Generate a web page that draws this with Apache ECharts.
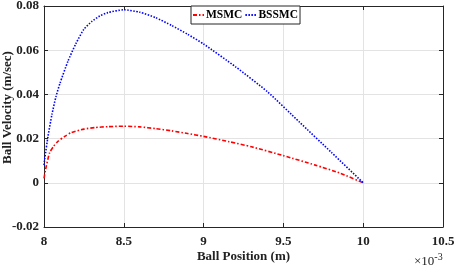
<!DOCTYPE html>
<html><head><meta charset="utf-8">
<script src="https://cdn.jsdelivr.net/npm/echarts@6/dist/echarts.min.js"></script>
<style>html,body{margin:0;padding:0;background:#fff}#c{width:461px;height:270px}</style>
</head><body><div id="c"></div>
<script>
// Ball position (x10^-3 m) and velocity (m/sec)
const msmcX = [8.0, 8.01, 8.035, 8.06, 8.0875, 8.13, 8.17, 8.25, 8.32, 8.4, 8.5, 8.6, 8.7, 8.8, 8.9, 9.0, 9.16, 9.3, 9.5, 9.7, 9.85, 10.0];
const msmcY = [0.002, 0.006, 0.0136, 0.0165, 0.0188, 0.021, 0.0227, 0.0243, 0.025, 0.0254, 0.0256, 0.0253, 0.0245, 0.0235, 0.0223, 0.021, 0.0186, 0.0163, 0.0123, 0.008, 0.0045, 0.0];
const bssmcX = [8.0, 8.005, 8.025, 8.05, 8.075, 8.1, 8.15, 8.2, 8.25, 8.3, 8.35, 8.4, 8.5, 8.6, 8.7, 8.8, 8.9, 9.0, 9.2, 9.4, 9.6, 9.8, 10.0];
const bssmcY = [0.008, 0.011, 0.021, 0.031, 0.039, 0.045, 0.055, 0.063, 0.0695, 0.073, 0.0755, 0.077, 0.0783, 0.0772, 0.0747, 0.0712, 0.0672, 0.0628, 0.0525, 0.0412, 0.0275, 0.0138, 0.0];
const xTicks = [8, 8.5, 9, 9.5, 10, 10.5];
const yTicks = [-0.02, 0, 0.02, 0.04, 0.06, 0.08];
const seriesNames = ['MSMC', 'BSSMC'];

const font = '"Liberation Serif", "Times New Roman", serif';
const axisColor = '#262626';
const pair = (xs, ys) => xs.map((x, i) => [x, ys[i]]);
const fmt = v => String(+(+v).toFixed(2));

const chart = echarts.init(document.getElementById('c'), null, {renderer: 'canvas'});
const baseX = {
  type: 'value', min: xTicks[0], max: xTicks[xTicks.length - 1], interval: 0.5,
  axisLine: {show: true, onZero: false, lineStyle: {color: axisColor, width: 1}},
  axisTick: {show: true, inside: true, length: 4, lineStyle: {color: axisColor}},
  splitLine: {show: false}
};
const baseY = {
  type: 'value', min: yTicks[0], max: yTicks[yTicks.length - 1], interval: 0.02,
  axisLine: {show: true, onZero: false, lineStyle: {color: axisColor, width: 1}},
  axisTick: {show: true, inside: true, length: 4, lineStyle: {color: axisColor}},
  splitLine: {show: false}
};
chart.setOption({
  animation: false,
  backgroundColor: '#fff',
  grid: {left: 44, right: 18, top: 6, bottom: 43, containLabel: false, outerBoundsMode: 'none'},
  legend: {
    data: seriesNames, left: 191, top: 6,
    backgroundColor: '#fff', borderColor: axisColor, borderWidth: 1, borderRadius: 0,
    padding: [3, 2, 3, 1], itemGap: 2, itemWidth: 11, itemHeight: 8,
    itemStyle: {opacity: 0},
    textStyle: {fontFamily: font, fontWeight: 'bold', fontSize: 11.5, color: '#000', padding: [0,0,0,-3]}
  },
  xAxis: [
    Object.assign({}, baseX, {
      position: 'bottom',
      axisLabel: {show: true, fontFamily: font, fontWeight: 'bold', fontSize: 13, color: '#222', margin: 8, formatter: fmt},
      splitLine: {show: true, lineStyle: {color: '#e3e3e3', width: 1}},
      name: 'Ball Position (m)', nameLocation: 'middle', nameGap: 23, nameMoveOverlap: false,
      nameTextStyle: {fontFamily: font, fontWeight: 'bold', fontSize: 13, color: '#222'}
    }),
    Object.assign({}, baseX, {position: 'top', axisLabel: {show: false}})
  ],
  yAxis: [
    Object.assign({}, baseY, {
      position: 'left',
      axisLabel: {show: true, fontFamily: font, fontWeight: 'bold', fontSize: 13, color: '#222', margin: 5, formatter: fmt},
      splitLine: {show: true, lineStyle: {color: '#e3e3e3', width: 1}},
      name: 'Ball Velocity (m/sec)', nameLocation: 'middle', nameGap: 30, nameRotate: 90, nameMoveOverlap: false,
      nameTextStyle: {fontFamily: font, fontWeight: 'bold', fontSize: 13, color: '#222', padding: [0, 0, 0, 18]}
    }),
    Object.assign({}, baseY, {position: 'right', axisLabel: {show: false}})
  ],
  graphic: [{
    type: 'text', left: 414, top: 252,
    style: {
      text: '×10{s|-3}', fontFamily: font, fontSize: 13, fill: '#222',
      rich: {s: {fontFamily: font, fontSize: 10, verticalAlign: 'top', padding: [0,0,9,0]}}
    }
  }],
  series: [
    {
      name: seriesNames[0], type: 'line', xAxisIndex: 0, yAxisIndex: 0,
      data: pair(msmcX, msmcY), showSymbol: false, symbol: 'none', smooth: 0.2,
      lineStyle: {color: '#ff0000', width: 1.6, type: [4, 2, 1.5, 2]},
      itemStyle: {color: '#ff0000'}, z: 3
    },
    {
      name: seriesNames[1], type: 'line', xAxisIndex: 0, yAxisIndex: 0,
      data: pair(bssmcX, bssmcY), showSymbol: false, symbol: 'none', smooth: 0.2,
      lineStyle: {color: '#0000ff', width: 1.6, type: [1.5, 1.5]},
      itemStyle: {color: '#0000ff'}, z: 4
    }
  ]
});
</script></body></html>
